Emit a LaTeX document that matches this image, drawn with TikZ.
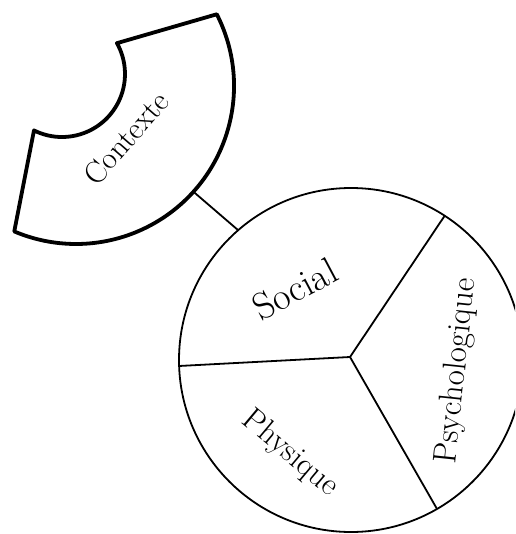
\documentclass[tikz,border=0pt]{standalone}
\usetikzlibrary{calc}
\begin{document}
\begin{tikzpicture}[x=1pt,y=1pt,
  ctxline/.style={line width=3.8pt, line join=round},
  thinline/.style={line width=1.8pt},
  lbl/.style={inner sep=0pt, outer sep=0pt}]
\useasboundingbox (0,0) rectangle (515,-534);
\clip (0,0) rectangle (515,-534);
% Contexte block arc
\draw[ctxline] ($(76,-86)+(27:158)$)
   arc[start angle=27, end angle=-113, radius=158]
   -- ($(62,-74)+(-116.4:63)$)
   arc[start angle=-116.4, end angle=29.3, radius=63] -- cycle;
\coordinate (ctxout) at ($(76,-86)+(-42:158)$);
% main circle
\node[circle, draw, thinline, minimum size=344pt, inner sep=0pt, outer sep=0pt] (main) at (351,-360) {};
\coordinate (hub) at (350,-357);
\draw[thinline] (hub) -- (main.57.2);
\draw[thinline] (hub) -- (main.182.6);
\draw[thinline] (hub) -- (main.-60.1);
\draw[thinline] (ctxout) -- (main.131.3);
% labels
\node[lbl, rotate=49, font=\fontsize{31}{37}\selectfont] (contexte) at (126,-138) {Contexte};
\node[lbl, rotate=28, font=\fontsize{38}{45}\selectfont] (social) at (295,-289) {Social};
\node[lbl, rotate=-40, font=\fontsize{32}{38}\selectfont] (physique) at (290,-454) {Physique};
\node[lbl, rotate=84, font=\fontsize{33}{39}\selectfont] (psycho) at (457,-371) {Psychologique};
\end{tikzpicture}
\end{document}
